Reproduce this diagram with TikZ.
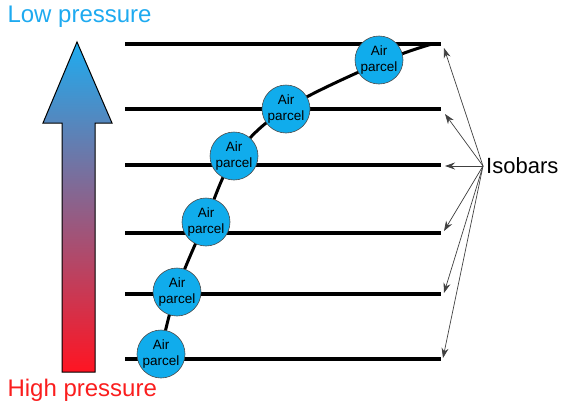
\documentclass[tikz,border=0pt]{standalone}
\usepackage{fontspec}
\setmainfont{Liberation Sans}
\usetikzlibrary{arrows.meta}
\definecolor{lowblue}{RGB}{30,172,240}
\definecolor{midpurple}{RGB}{168,122,172}
\definecolor{highred}{RGB}{255,20,34}
\definecolor{parcelfill}{RGB}{16,172,236}
\definecolor{lowtext}{RGB}{30,170,240}
\definecolor{hightext}{RGB}{250,30,30}
\tikzset{
  isobar/.style={line width=3.2pt},
  path/.style={line width=3pt, line join=round},
  parcel/.style={circle, draw=black!70, line width=0.6pt, fill=parcelfill,
    minimum size=48pt, inner sep=0pt, align=center,
    font=\fontsize{13.5}{15.5}\selectfont},
  pointer/.style={draw=black!75, line width=0.7pt,
    -{Stealth[length=10pt,width=7pt]}},
}
\begin{document}
\begin{tikzpicture}[x=1pt,y=-1pt]
\useasboundingbox (0,0) rectangle (563,407);

% pressure arrow with blue-to-red gradient
\shade[draw=black, line width=1pt, line join=miter,
  top color=lowblue, middle color=midpurple, bottom color=highred]
  (62,372) -- (62,123) -- (43,123) -- (77,42) -- (112,123) -- (95,123) -- (95,372) -- cycle;
\node[anchor=west, text=lowtext, font=\fontsize{24}{28}\selectfont] (low) at (4,17) {Low pressure};
\node[anchor=west, text=hightext, font=\fontsize{24}{28}\selectfont] (high) at (4,390) {High pressure};

% isobars
\foreach \i/\y in {1/44,2/109,3/165,4/233,5/294,6/359}{
  \coordinate (a\i) at (125,\y);
  \coordinate (b\i) at (441,\y);
  \draw[isobar] (a\i) -- (b\i);
}

% parcel centres
\coordinate (c1) at (379,60);
\coordinate (c2) at (286,109);
\coordinate (c3) at (234,156);
\coordinate (c4) at (206,222);
\coordinate (c5) at (177,292);
\coordinate (c6) at (161,354);

% rising path of the air parcel
\draw[path] plot[smooth, tension=0.6] coordinates
  {(160,355) (176,292) (205,222) (234,158) (284,110) (379,63) (432,44)};

% air parcels
\foreach \i in {1,...,6}{
  \node[parcel] (p\i) at (c\i) {Air\\parcel};
}

% isobar label and pointers
\node[anchor=west, font=\fontsize{22}{26}\selectfont, inner sep=0pt] (iso) at (486,166) {Isobars};
\coordinate (src) at (483,166);
\coordinate (t1) at (444,48);
\coordinate (t2) at (445,114);
\coordinate (t3) at (445,166);
\coordinate (t4) at (444,231);
\coordinate (t5) at (444,293);
\coordinate (t6) at (443,358);
\foreach \i in {1,...,6}{
  \draw[pointer] (src) -- (t\i);
}
\end{tikzpicture}
\end{document}
